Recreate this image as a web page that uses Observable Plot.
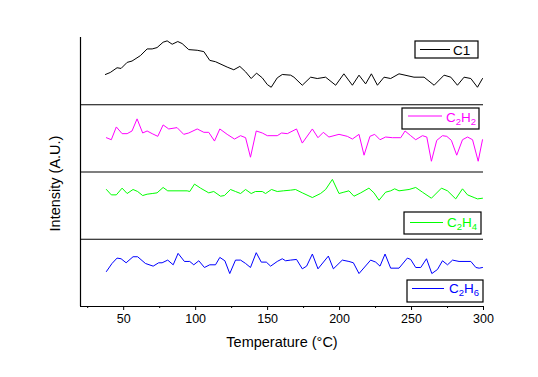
<!DOCTYPE html>
<html>
<head>
<meta charset="utf-8">
<script src="https://cdn.jsdelivr.net/npm/d3@7"></script>
<script src="https://cdn.jsdelivr.net/npm/@observablehq/plot@0.6"></script>
<style>
  html, body { margin: 0; padding: 0; background: #fff; }
  svg text { font-family: "Liberation Sans", Arial, sans-serif; }
</style>
</head>
<body>
<div id="chart"></div>
<script>
// [temperature °C, intensity (A.U., 0-100 within its panel)]
const c1 = [[37.3,45],[40.7,48],[45.4,55],[48.2,54],[52.4,63],[55.8,65],[61.6,73],[66.3,83],[69.8,83],[73.2,85],[77.4,93],[80.2,95],[83.7,90],[87.6,94],[90.6,91],[95.2,82],[101.1,81],[105.7,79],[109.8,66],[113.8,64],[121.9,56],[126.5,52],[130.7,57],[134.7,49],[138.6,39],[142.3,47],[146.3,40],[149.8,30],[152.5,26],[156.7,40],[160.2,45],[166.0,44],[168.3,41],[174.1,29],[179.9,41],[184.5,39],[190.3,41],[197.3,29],[203.0,46],[208.9,29],[213.5,44],[218.1,31],[222.1,46],[226.3,29],[230.9,41],[235.5,39],[241.3,46],[251.7,41],[258.7,41],[265.7,29],[272.6,44],[277.3,41],[281.9,29],[286.5,41],[291.2,39],[295.8,26],[299.3,39]];
const c2h2 = [[38.0,51],[41.4,48],[44.9,67],[48.9,57],[52.4,57],[55.8,61],[59.3,79],[63.2,58],[66.3,61],[69.8,57],[73.7,53],[77.4,70],[81.3,64],[87.1,66],[91.7,56],[95.2,58],[101.1,64],[105.7,59],[109.1,59],[113.1,46],[116.8,64],[121.9,56],[127.0,49],[131.2,54],[134.7,51],[138.1,22],[142.1,61],[146.3,58],[149.8,54],[156.7,54],[159.7,58],[163.7,57],[170.1,64],[174.1,43],[181.1,64],[185.0,51],[188.7,59],[192.6,52],[199.6,56],[205.4,53],[208.9,49],[213.5,56],[217.0,25],[221.1,53],[224.4,56],[228.1,48],[232.0,52],[236.7,51],[242.5,51],[245.5,61],[249.4,54],[252.9,48],[257.6,54],[260.6,52],[263.8,16],[267.5,47],[271.5,54],[274.5,53],[277.7,47],[281.4,25],[285.4,48],[288.9,52],[292.4,48],[296.3,16],[299.3,48]];
const c2h4 = [[38.0,74],[41.4,66],[44.9,66],[48.9,76],[52.4,68],[56.5,74],[59.7,71],[63.2,65],[66.3,67],[69.8,68],[73.2,69],[77.4,77],[80.6,72],[94.1,72],[95.9,71],[99.2,82],[103.4,76],[109.1,69],[112.6,71],[117.3,64],[120.0,65],[124.2,74],[127.7,71],[131.2,68],[134.7,74],[138.6,68],[141.6,71],[146.3,71],[148.6,68],[152.7,74],[156.7,71],[160.9,72],[166.0,73],[169.4,74],[174.1,69],[181.1,62],[186.8,68],[190.3,74],[195.0,89],[199.6,68],[203.0,70],[206.5,72],[210.0,64],[214.7,69],[220.4,76],[223.9,69],[227.4,58],[232.0,70],[235.5,72],[238.3,75],[241.3,72],[248.3,74],[252.9,77],[257.6,70],[263.8,61],[270.8,76],[275.0,72],[280.7,60],[285.4,75],[288.9,66],[293.5,62],[295.8,60],[299.3,61]];
const c2h6 = [[38.0,52],[41.9,64],[45.4,72],[48.2,71],[51.7,65],[56.5,74],[59.7,74],[65.1,64],[70.5,60],[74.3,65],[76.7,65],[80.6,69],[84.4,62],[87.8,79],[92.2,67],[95.9,67],[98.7,62],[102.2,68],[106.1,58],[109.8,62],[113.8,62],[116.8,73],[120.3,68],[123.7,49],[127.7,69],[131.2,69],[134.7,64],[138.1,58],[142.1,80],[145.6,66],[149.1,66],[152.1,60],[156.7,67],[160.2,71],[162.5,68],[166.0,69],[170.1,70],[174.1,56],[177.1,60],[181.1,78],[185.0,56],[192.2,75],[195.7,56],[201.9,69],[206.5,67],[209.6,65],[213.5,49],[221.6,69],[225.1,66],[228.1,60],[231.6,78],[235.5,57],[241.3,57],[247.1,72],[249.4,70],[252.9,58],[256.4,58],[260.4,71],[264.1,49],[268.0,55],[271.5,68],[275.0,62],[278.5,69],[283.0,67],[291.2,67],[294.7,58],[297.0,57],[299.3,58]];

const seriesNames = ["C1", "C2H2", "C2H4", "C2H6"];
const seriesColors = ["#000000", "#ff00ff", "#00ff00", "#0000ff"];
const majorTicks = [50, 100, 150, 200, 250, 300];
const minorTicks = [25, 75, 125, 175, 225, 275];
const xLabel = "Temperature (°C)";
const yLabel = "Intensity (A.U.)";

const seriesData = [c1, c2h2, c2h4, c2h6];
const nPanels = seriesData.length;
const rows = seriesData.flatMap((arr, i) =>
  arr.map(([t, v]) => ({series: seriesNames[i], t, y: (nPanels - 1 - i) + v / 100}))
);

const lineMarks = seriesNames.map((name, i) =>
  Plot.line(rows.filter(r => r.series === name), {x: "t", y: "y", stroke: seriesColors[i], strokeWidth: 1})
);

const plot = Plot.plot({
  width: 538,
  height: 377,
  marginLeft: 80,
  marginRight: 55,
  marginTop: 37,
  marginBottom: 71,
  style: {fontFamily: "'Liberation Sans', Arial, sans-serif", background: "#fff", color: "#000"},
  x: {domain: [20, 300]},
  y: {domain: [0, nPanels], axis: null},
  marks: [
    Plot.ruleY([1, 2, 3], {stroke: "#000", strokeWidth: 1.2}),
    Plot.ruleY([0], {stroke: "#000", strokeWidth: 1.2}),
    Plot.ruleX([20], {y1: 0, y2: nPanels, stroke: "#000", strokeWidth: 1.2}),
    ...lineMarks,
    Plot.axisX({ticks: majorTicks, tickSize: 4, tickPadding: 4, fontSize: 12.5, label: null, stroke: "#000", fill: "#000"}),
    Plot.axisX({ticks: minorTicks, tickSize: 2, tickFormat: () => "", label: null, stroke: "#000"}),
    Plot.text([xLabel], {frameAnchor: "bottom", textAnchor: "middle", lineAnchor: "middle", dy: 36, fontSize: 14.5, fill: "#000"})
  ]
});

document.getElementById("chart").appendChild(plot);

const svg = d3.select(plot);

// Y axis title (rotated)
const yScale = plot.scale("y");
svg.append("text")
  .attr("transform", `translate(55,${(yScale.apply(0) + yScale.apply(nPanels)) / 2 + 12}) rotate(-90)`)
  .attr("text-anchor", "middle")
  .attr("dominant-baseline", "central")
  .attr("font-size", 14.5)
  .attr("fill", "#000")
  .text(yLabel);

// Legends (one boxed entry per panel)
const legends = [
  {box: [415, 41, 63, 17], line: [420, 450, 49.5], text: [453, 55], parts: [["C", false], ["1", false]]},
  {box: [402, 108, 77, 21], line: [408, 442, 116], text: [446, 122], parts: [["C", false], ["2", true], ["H", false], ["2", true]]},
  {box: [404, 212, 77, 22], line: [410, 443, 222.5], text: [447, 227], parts: [["C", false], ["2", true], ["H", false], ["4", true]]},
  {box: [407, 280, 76, 22], line: [412, 444, 288.5], text: [449, 293], parts: [["C", false], ["2", true], ["H", false], ["6", true]]}
];
legends.forEach((lg, i) => {
  const g = svg.append("g");
  g.append("rect").attr("x", lg.box[0]).attr("y", lg.box[1]).attr("width", lg.box[2]).attr("height", lg.box[3])
    .attr("fill", "#fff").attr("stroke", "#000").attr("stroke-width", 1.2);
  g.append("line").attr("x1", lg.line[0]).attr("x2", lg.line[1]).attr("y1", lg.line[2]).attr("y2", lg.line[2])
    .attr("stroke", seriesColors[i]).attr("stroke-width", 1);
  const t = g.append("text").attr("x", lg.text[0]).attr("y", lg.text[1])
    .attr("text-anchor", "start")
    .attr("fill", seriesColors[i]).attr("font-size", 13.5)
    .attr("font-family", "'Liberation Sans', Arial, sans-serif");
  lg.parts.forEach(([s, sub], k) => {
    const prevSub = k > 0 && lg.parts[k - 1][1];
    const ts = t.append("tspan").text(s);
    if (sub) ts.attr("font-size", 9.5);
    ts.attr("dy", sub && !prevSub ? 3 : (!sub && prevSub ? -3 : 0));
  });
});
</script>
</body>
</html>
